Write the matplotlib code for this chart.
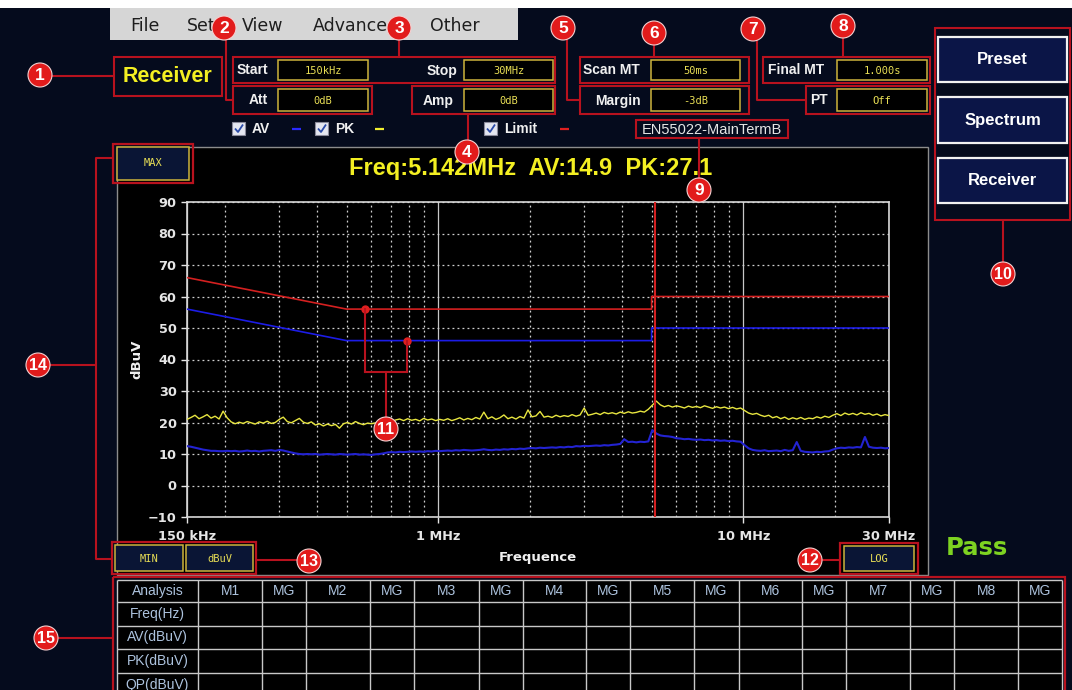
import numpy as np
import matplotlib
matplotlib.use("Agg")
import matplotlib.pyplot as plt
from matplotlib.patches import Rectangle, Circle
from matplotlib.ticker import LogLocator, NullFormatter, FixedLocator

# ---------------- data ----------------
pk_dbuv = [
    21.0, 21.6, 22.3, 21.2, 21.8, 22.5, 21.4, 22.0, 21.1,
    23.6, 21.5,
    20.2, 19.6, 20.1, 19.7, 20.3, 19.9, 19.5, 20.2, 19.8, 20.4, 19.7, 20.0, 21.0,
    21.7,
    20.3, 19.9, 20.6, 21.3, 20.1, 19.7, 20.2,
    19.2, 19.6, 18.9, 19.5, 19.0, 19.4, 18.2, 19.6,
    20.0, 19.5, 20.3, 19.7, 19.3, 19.8,
    19.6, 19.9, 19.4, 20.1, 19.7, 20.3, 20.8, 21.1,
    20.6, 21.2, 20.7, 21.0, 20.5, 21.3, 20.8, 21.1, 20.6, 21.0,
    20.7, 21.2, 20.6, 21.0, 21.5, 20.8, 21.3, 20.9, 21.6, 21.1, 23.3, 21.2, 21.8,
    21.0, 21.5, 22.4, 21.2, 21.7, 21.1, 21.9, 21.4, 24.0,
    21.8, 22.1, 23.5, 21.7, 22.0, 21.6, 22.3, 21.8, 22.2, 21.9, 22.5, 22.0, 22.4, 24.6, 22.3,
    22.6, 23.0, 22.5, 23.2, 22.8, 23.1, 22.7, 23.3, 22.9, 23.4, 23.0, 23.2, 23.6, 23.3,
    24.2, 25.5, 26.8,
    25.6, 25.0, 25.4, 24.9, 25.3, 25.0, 24.6, 25.2, 24.8, 25.1, 24.7, 25.3, 24.9, 24.5,
    25.0, 24.6, 24.9, 24.4, 24.8, 24.3, 24.6,
    23.8, 23.0, 22.6, 22.9, 22.3,
    21.9, 22.3, 21.5, 21.9, 21.2, 21.7, 21.0, 21.5, 21.1, 21.6, 21.0, 21.4,
    21.2, 21.8, 21.4, 22.0, 21.6,
    22.3, 22.8, 22.2, 23.0, 22.5, 22.9, 22.4, 23.1, 22.6, 22.9, 22.3, 22.7, 22.1, 22.5, 22.2,
]
av_dbuv = [
    12.5, 12.3, 12.0,
    11.7, 11.4, 11.2, 11.0, 11.0, 10.9,
    10.9, 11.0, 10.9, 11.0, 10.8, 10.9, 11.1, 10.9, 11.0, 10.8, 11.0, 11.1, 11.2, 11.0,
    11.3, 11.1, 10.8, 10.5,
    10.2, 10.0, 9.9, 10.0, 9.9, 10.0, 9.8, 9.9, 10.0, 9.9, 9.8, 10.0, 9.9, 9.8, 9.9,
    10.0, 9.8, 9.9, 9.8, 9.7, 9.9, 10.0, 10.2,
    10.5, 10.6, 10.5, 10.7, 10.6, 10.7, 10.8, 10.7, 10.8, 10.7, 10.9, 10.8, 11.0, 10.9,
    11.0, 11.1, 11.0, 11.2, 11.1, 11.3, 11.2, 11.1, 11.2, 11.3, 11.5, 11.3, 11.2, 11.4,
    11.3, 11.5, 11.4, 11.6, 11.5, 11.7, 11.6, 11.8,
    11.9, 11.8, 12.0, 11.9, 12.0, 12.1, 12.0, 12.2, 12.1,
    12.3, 12.2, 12.5, 12.4, 12.6, 12.5, 12.6, 12.7, 12.6, 12.8, 12.7, 12.9, 13.0, 13.2,
    14.7,
    13.8, 13.9, 13.7, 13.9, 13.8, 14.0,
    17.6, 16.5,
    15.9, 15.7, 15.6, 15.4,
    15.0, 14.9, 14.7, 14.8, 14.6, 14.5, 14.6, 14.4, 14.5, 14.3, 14.4, 14.2, 14.3, 14.1,
    14.2, 14.0, 13.9,
    12.8, 11.8,
    11.3, 11.1, 11.0, 11.2, 10.9, 11.0, 11.1, 10.9, 11.3, 11.0, 11.2,
    13.8,
    11.0, 10.7, 10.6, 10.5, 10.7, 10.6, 10.8, 10.9,
    11.4, 11.8, 12.0, 11.9, 12.1, 12.0, 12.2, 12.1,
    15.4,
    12.3, 12.0, 11.9, 12.0, 11.8, 11.9,
]
f_start_mhz, f_stop_mhz = 0.15, 30.0
limit_freq_mhz = [0.15, 0.5, 5.0, 5.0, 30.0]
qp_limit = [66, 56, 56, 60, 60]
av_limit = [56, 46, 46, 50, 50]
marker_freq_mhz = 5.142
limit_point_freq = [0.575, 0.79]
limit_point_val = [56, 46]
bracket_level = 36
bracket_stem_end = 20
x_ticks_mhz = [0.15, 1, 10, 30]
x_tick_labels = ["150 kHz", "1 MHz", "10 MHz", "30 MHz"]
y_ticks = list(range(-10, 91, 10))
header_text = "Freq:5.142MHz  AV:14.9  PK:27.1"
menu_items = ["File", "Set", "View", "Advance", "Other"]
table_cols = ["Analysis", "M1", "MG", "M2", "MG", "M3", "MG", "M4", "MG",
              "M5", "MG", "M6", "MG", "M7", "MG", "M8", "MG"]
table_rows = ["Freq(Hz)", "AV(dBuV)", "PK(dBuV)", "QP(dBuV)"]
buttons = ["Preset", "Spectrum", "Receiver"]

pk_freq = np.geomspace(f_start_mhz, f_stop_mhz, len(pk_dbuv))
av_freq = np.geomspace(f_start_mhz, f_stop_mhz, len(av_dbuv))

# ---------------- style ----------------
W, H = 1072, 690
NAVY = "#050b1d"
REDBOX = "#b8121e"
CIRC = "#e21b1b"
YEL = "#f3ef22"
VALYEL = "#e8de55"
BOXYEL = "#cdb43c"
BTN = "#0b1547"
LBL = "#f0f0f0"
TBL = "#adc3de"

fig = plt.figure(figsize=(W / 100, H / 100), dpi=100)
fig.patch.set_facecolor(NAVY)

ui = fig.add_axes([0, 0, 1, 1], zorder=1)
ui.set_xlim(0, W); ui.set_ylim(H, 0); ui.axis("off")
ov = fig.add_axes([0, 0, 1, 1], zorder=3)
ov.set_xlim(0, W); ov.set_ylim(H, 0); ov.axis("off")


def box(a, x0, y0, x1, y1, ec="none", fc="none", lw=1.4, z=2):
    a.add_patch(Rectangle((x0, y0), x1 - x0, y1 - y0, ec=ec, fc=fc, lw=lw, zorder=z))


def seg(a, xs, ys, color=REDBOX, lw=1.5, z=3):
    a.plot(xs, ys, color=color, lw=lw, zorder=z, solid_capstyle="butt")


SANS = "Liberation Sans"
MONO = "DejaVu Sans Mono"

# top strip + menu
box(ui, 0, 0, W, 8, fc="white", z=1)
box(ui, 110, 8, 518, 40, fc="#d6d6d6", z=1)
for name, x in zip(menu_items, [130, 187, 242, 313, 430]):
    ui.text(x, 26, name, fontsize=12.5, family="DejaVu Sans", color="#1e1e1e",
            va="center", ha="left", zorder=2)

# Receiver label
box(ui, 114, 57, 222, 96, ec=REDBOX, lw=1.5)
ui.text(168, 77, "Receiver", fontsize=15.5, family=SANS, weight="bold", color=YEL,
        ha="center", va="center")


def field(label, value, lab_x, ha, vx0, vx1, y0, y1):
    ui.text(lab_x, (y0 + y1) / 2 + 0.5, label, fontsize=10, family=SANS, weight="bold",
            color=LBL, ha=ha, va="center")
    box(ui, vx0, y0 + 3, vx1, y1 - 3, ec=BOXYEL, fc="black", lw=1.1)
    ui.text((vx0 + vx1) / 2, (y0 + y1) / 2 + 0.5, value, fontsize=7.5, family=MONO,
            color=VALYEL, ha="center", va="center")


# red boxes
box(ui, 233, 57, 555, 83, ec=REDBOX, lw=1.5)
box(ui, 233, 86, 372, 114, ec=REDBOX, lw=1.5)
box(ui, 412, 86, 555, 114, ec=REDBOX, lw=1.5)
box(ui, 580, 57, 749, 83, ec=REDBOX, lw=1.5)
box(ui, 580, 86, 749, 114, ec=REDBOX, lw=1.5)
box(ui, 763, 57, 930, 83, ec=REDBOX, lw=1.5)
box(ui, 806, 86, 930, 114, ec=REDBOX, lw=1.5)

field("Start", "150kHz", 237, "left", 278, 368, 57, 83)
field("Stop", "30MHz", 457, "right", 464, 553, 57, 83)
field("Att", "0dB", 258, "center", 278, 368, 86, 114)
field("Amp", "0dB", 438, "center", 464, 553, 86, 114)
field("Scan MT", "50ms", 583, "left", 651, 740, 57, 83)
field("Margin", "-3dB", 618, "center", 651, 740, 86, 114)
field("Final MT", "1.000s", 768, "left", 837, 927, 57, 83)
field("PT", "Off", 819, "center", 837, 927, 86, 114)

# check boxes
def checkbox(x, label, dash_color, dash_x):
    box(ui, x, 122, x + 13, 135, ec="#8a8a9a", fc="#e4e6f0", lw=0.8)
    seg(ui, [x + 3, x + 6, x + 11], [128.5, 132, 124.5], color="#2a4aa8", lw=1.3)
    ui.text(x + 20, 129, label, fontsize=10, family=SANS, weight="bold", color=LBL,
            ha="left", va="center")
    seg(ui, [dash_x, dash_x + 9], [128.5, 128.5], color=dash_color, lw=1.6)


checkbox(232, "AV", "#2a2aff", 292)
checkbox(315, "PK", "#f0ee30", 375)
checkbox(484, "Limit", "#e02020", 560)

# EN55022 label
box(ui, 636, 120, 788, 138, ec=REDBOX, lw=1.5)
ui.text(712, 129.5, "EN55022-MainTermB", fontsize=10.5, family=SANS, color="#e6e6e6",
        ha="center", va="center")

# buttons
box(ui, 935, 28, 1070, 220, ec=REDBOX, lw=1.5)
for name, (y0, y1) in zip(buttons, [(37, 82), (97, 143), (158, 203)]):
    box(ui, 938, y0, 1067, y1, ec="#f2f2f2", fc=BTN, lw=1.6)
    ui.text(1002.5, (y0 + y1) / 2, name, fontsize=12, family=SANS, weight="bold",
            color="white", ha="center", va="center")

# chart panel
box(ui, 117, 147, 928, 575, ec="#8c8c8c", fc="black", lw=1.0, z=1)
ui.text(531, 169, header_text, fontsize=17, family=SANS, weight="bold", color=YEL,
        ha="center", va="center")

# MAX / MIN / dBuV / LOG boxes
box(ui, 113, 144, 193, 183, ec=REDBOX, lw=1.6)
box(ui, 117, 147, 189, 180, ec=BOXYEL, fc="#0a1535", lw=1.1)
ui.text(153, 163.5, "MAX", fontsize=7.5, family=MONO, color=VALYEL, ha="center", va="center")
box(ui, 112, 542, 256, 574, ec=REDBOX, lw=1.6)
box(ui, 115, 545, 183, 571, ec=BOXYEL, fc="#0a1535", lw=1.1)
box(ui, 186, 545, 253, 571, ec=BOXYEL, fc="#0a1535", lw=1.1)
ui.text(149, 558.5, "MIN", fontsize=7.5, family=MONO, color=VALYEL, ha="center", va="center")
ui.text(219.5, 558.5, "dBuV", fontsize=7.5, family=MONO, color=VALYEL, ha="center", va="center")
box(ui, 840, 543, 918, 574, ec=REDBOX, lw=1.6)
box(ui, 844, 546, 914, 571, ec=BOXYEL, fc="#0a1535", lw=1.1)
ui.text(879, 558.5, "LOG", fontsize=7.5, family=MONO, color=VALYEL, ha="center", va="center")

ui.text(946, 548, "Pass", fontsize=17.5, family="DejaVu Sans", weight="bold",
        color="#7ed321", ha="left", va="center")

# table
col_x = [117, 198, 262, 306, 370, 414, 479, 523, 586, 630, 694, 739, 802, 846, 910, 954, 1018, 1062]
row_y = [580, 602, 626, 649, 673, 697]
box(ui, 117, 580, 1062, 697, fc="black", z=1)
for x in col_x:
    seg(ui, [x, x], [580, 697], color="#c8c8c8", lw=1.0, z=2)
for y in row_y:
    seg(ui, [117, 1062], [y, y], color="#c8c8c8", lw=1.0, z=2)
for i, name in enumerate(table_cols):
    ui.text((col_x[i] + col_x[i + 1]) / 2, (row_y[0] + row_y[1]) / 2, name, fontsize=10,
            family=SANS, color=TBL, ha="center", va="center", zorder=3)
for j, name in enumerate(table_rows):
    ui.text((col_x[0] + col_x[1]) / 2, (row_y[j + 1] + row_y[j + 2]) / 2, name, fontsize=10,
            family=SANS, color=TBL, ha="center", va="center", zorder=3)
box(ui, 113, 577, 1065, 693, ec=REDBOX, lw=1.6, z=4)

# ---------------- chart ----------------
ax = fig.add_axes([187 / W, 1 - 517 / H, (889 - 187) / W, (517 - 202) / H], zorder=2)
ax.set_facecolor("black")
ax.set_xscale("log")
ax.set_xlim(f_start_mhz, f_stop_mhz)
ax.set_ylim(-10, 90)
ax.xaxis.set_major_locator(FixedLocator(x_ticks_mhz))
ax.set_xticklabels(x_tick_labels)
ax.xaxis.set_minor_locator(LogLocator(base=10, subs=np.arange(2, 10)))
ax.xaxis.set_minor_formatter(NullFormatter())
ax.set_yticks(y_ticks)
ax.tick_params(axis="x", which="minor", length=0)
ax.tick_params(axis="x", which="major", colors="#e6e6e6", length=4, width=1.0,
               labelsize=9.3, pad=5)
ax.tick_params(axis="y", which="major", colors="#e6e6e6", length=4, width=1.0,
               labelsize=9.3, pad=3.5)
for lab in ax.get_xticklabels() + ax.get_yticklabels():
    lab.set_fontweight("bold")
    lab.set_family("DejaVu Sans")
for s in ax.spines.values():
    s.set_color("#d8d8d8")
    s.set_linewidth(1.2)
ax.grid(which="minor", axis="x", color="#d0d0d0", ls=(0, (1.5, 2.5)), lw=0.9)
ax.grid(which="major", axis="x", color="#c8c8c8", ls="-", lw=0.9)
ax.grid(which="major", axis="y", color="#d0d0d0", ls=(0, (1.5, 2.5)), lw=0.9)
ax.set_axisbelow(True)
ax.set_xlabel("Frequence", fontsize=9.5, weight="bold", color="#f0f0f0", labelpad=6)
ax.set_ylabel("dBuV", fontsize=9.5, weight="bold", color="#f0f0f0", labelpad=3)

ax.plot(limit_freq_mhz, qp_limit, color="#d42020", lw=1.2, zorder=3)
ax.plot(limit_freq_mhz, av_limit, color="#1c1ce6", lw=1.2, zorder=3)
ax.plot(av_freq, av_dbuv, color="#2323d2", lw=1.5, zorder=4)
ax.plot(pk_freq, pk_dbuv, color="#e8e640", lw=1.0, zorder=5)
ax.axvline(marker_freq_mhz, color="#d42020", lw=1.5, zorder=6)

# annotation 11 bracket (in data coordinates)
ax.plot(limit_point_freq, limit_point_val, "o", color="#e02020", ms=5, zorder=7)
for f, v in zip(limit_point_freq, limit_point_val):
    ax.plot([f, f], [v, bracket_level], color=REDBOX, lw=1.5, zorder=7)
ax.plot(limit_point_freq, [bracket_level, bracket_level], color=REDBOX, lw=1.5, zorder=7)
stem_f = float(np.sqrt(limit_point_freq[0] * limit_point_freq[1]))
ax.plot([stem_f, stem_f], [bracket_level, bracket_stem_end], color=REDBOX, lw=1.5, zorder=7)

# ---------------- callouts ----------------
seg(ov, [50, 114], [76, 76])
seg(ov, [226, 226, 233], [30, 100, 100])
seg(ov, [399, 399], [30, 57])
seg(ov, [468, 468], [114, 150])
seg(ov, [567, 567, 580], [30, 100, 100])
seg(ov, [654, 654], [33, 57])
seg(ov, [757, 757, 806], [30, 100, 100])
seg(ov, [843, 843], [27, 57])
seg(ov, [699, 699], [138, 185])
seg(ov, [1003, 1003], [220, 270])
seg(ov, [818, 840], [560, 560])
seg(ov, [256, 300], [560, 560])
seg(ov, [113, 96, 96, 112], [158, 158, 559, 559])
seg(ov, [45, 96], [365, 365])
seg(ov, [50, 113], [638, 638])

circles = [("1", 40, 75), ("2", 224, 28), ("3", 399, 28), ("4", 467, 152),
           ("5", 563, 28), ("6", 654, 33), ("7", 753, 29), ("8", 843, 26),
           ("9", 699, 190), ("10", 1003, 274), ("11", 386, 429), ("12", 810, 560),
           ("13", 309, 561), ("14", 38, 365), ("15", 46, 638)]
for lab, cx, cy in circles:
    ov.add_patch(Circle((cx, cy), 12, fc=CIRC, ec="#f4d0d0", lw=0.8, zorder=8))
    ov.text(cx, cy + 0.5, lab, fontsize=12.5 if len(lab) == 1 else 11.5, family=SANS,
            weight="bold", color="white", ha="center", va="center", zorder=9)

fig.savefig("out.png", dpi=100, facecolor=fig.get_facecolor())
